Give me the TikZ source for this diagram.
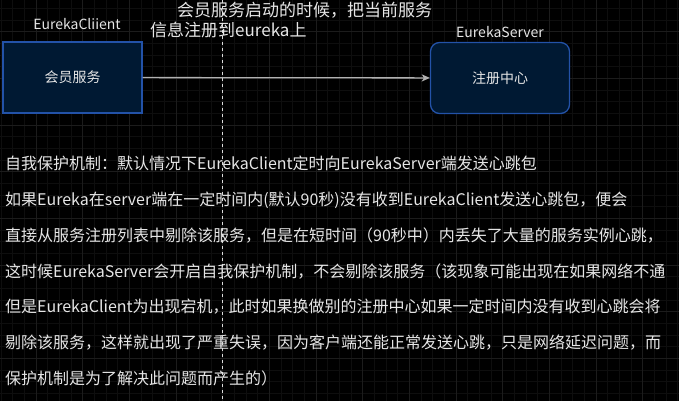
\documentclass[tikz,border=0pt]{standalone}
\usepackage{fontspec}
\setmainfont{Noto Sans CJK SC}
\usetikzlibrary{arrows.meta}
\definecolor{boxfill}{HTML}{001933}
\definecolor{boxline}{HTML}{2352A8}
\definecolor{gridminor}{HTML}{0E0E0E}
\definecolor{gridmajor}{HTML}{1C1C1C}
\definecolor{txt}{HTML}{E6E6E6}

\begin{document}
\begin{tikzpicture}[x=1pt,y=-1pt,
    svcbox/.style={draw=boxline,fill=boxfill,line width=1.3pt,minimum width=139pt,
      minimum height=71pt,inner sep=0pt,text=txt,font=\fontsize{14}{16}\selectfont},
    toplabel/.style={text=txt,font=\fontsize{14}{16}\selectfont,inner sep=0pt},
    notetext/.style={text=txt,inner sep=0pt,anchor=base west}]
  \fill[black] (0,0) rectangle (679,401);
  \useasboundingbox (0,0) rectangle (679,401);
  % grid of the canvas
  \foreach \x in {1.0,12.667,...,679} \draw[gridminor,line width=0.6pt] (\x,0) -- (\x,401);
  \foreach \y in {8.37,20.03,...,401} \draw[gridminor,line width=0.6pt] (0,\y) -- (679,\y);
  \foreach \x in {36,82.67,...,679} \draw[gridmajor,line width=0.8pt] (\x,0) -- (\x,401);
  \foreach \y in {31.7,78.37,...,401} \draw[gridmajor,line width=0.8pt] (0,\y) -- (679,\y);
  \draw[gray!28,dashed,line width=0.8pt] (222.7,0) -- (222.7,401);

  \node[svcbox] (client) at (72.5,77.5) {会员服务};
  \node[svcbox,rounded corners=9pt] (server) at (500,78) {注册中心};
  \node[toplabel] (clientname) at (77,24) {EurekaCliient};
  \node[toplabel] (servername) at (500,32) {EurekaServer};

  \draw[gray!60!white,line width=1.3pt,-{Stealth[length=8pt,width=7pt,inset=2pt]}] (client) -- (server);
  \node[notetext,font=\fontsize{17}{20}\selectfont] (reg1) at (177,17) {会员服务启动的时候，把当前服务};
  \node[notetext,font=\fontsize{17}{20}\selectfont] (reg2) at (150,37) {信息注册到eureka上};

  \node[notetext,anchor=north west,align=left,font=\fontsize{16}{35.8}\selectfont] (note) at (5,156)
    {自我保护机制：默认情况下EurekaClient定时向EurekaServer端发送心跳包\\
     如果Eureka在server端在一定时间内(默认90秒)没有收到EurekaClient发送心跳包，便会\\
     直接从服务注册列表中剔除该服务，但是在短时间（90秒中）内丢失了大量的服务实例心跳，\\
     这时候EurekaServer会开启自我保护机制，不会剔除该服务（该现象可能出现在如果网络不通\\
     但是EurekaClient为出现宕机，此时如果换做别的注册中心如果一定时间内没有收到心跳会将\\
     剔除该服务，这样就出现了严重失误，因为客户端还能正常发送心跳，只是网络延迟问题，而\\
     保护机制是为了解决此问题而产生的）};
\end{tikzpicture}
\end{document}
